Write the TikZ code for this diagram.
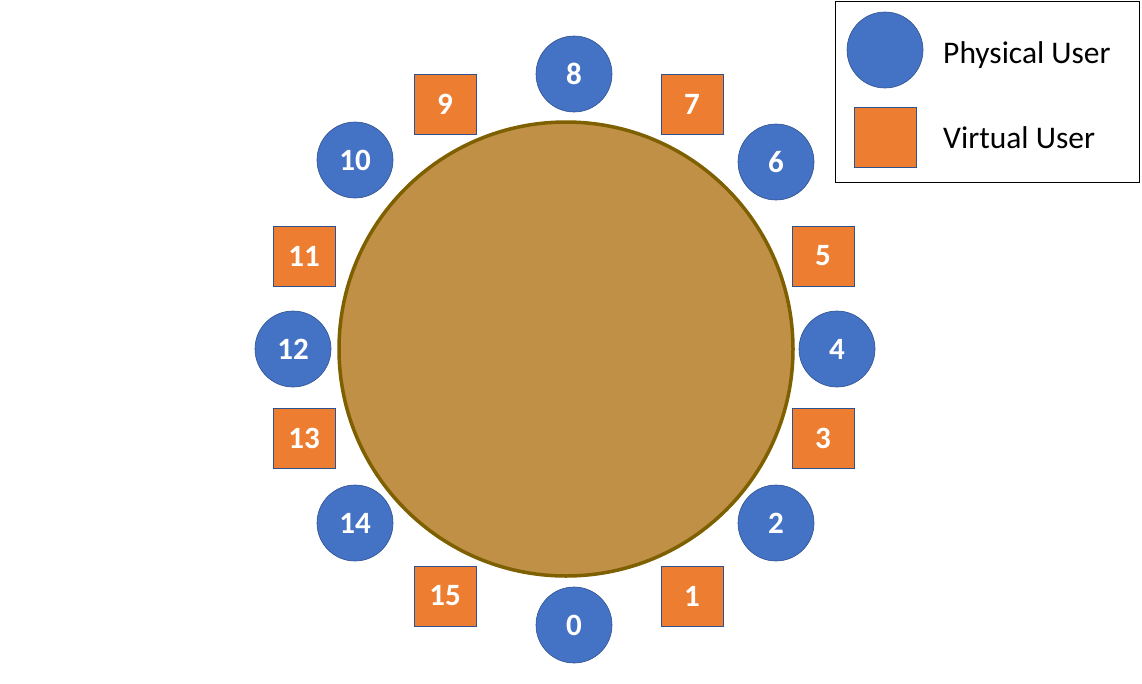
\documentclass[tikz,border=0pt]{standalone}
\usepackage{fontspec}
\setmainfont{Carlito}
\usepackage{tikz}

\definecolor{userblue}{HTML}{4472C4}
\definecolor{useredge}{HTML}{2F528F}
\definecolor{userorange}{HTML}{ED7D31}
\definecolor{tablefill}{HTML}{BF9046}
\definecolor{tableedge}{HTML}{7F6000}

\begin{document}
\begin{tikzpicture}[x=1pt, y=-1pt,
    physical/.style={circle, minimum size=76pt, inner sep=0pt, fill=userblue, draw=useredge, line width=0.6pt, text=white, font=\fontsize{31}{34}\selectfont\bfseries},
    virtual/.style={rectangle, minimum width=62pt, minimum height=60pt, inner sep=0pt, fill=userorange, draw=useredge, line width=0.8pt, text=white, font=\fontsize{31}{34}\selectfont\bfseries},
    legendtext/.style={anchor=base west, inner sep=0pt, font=\fontsize{31.5}{34}\selectfont}]

    \useasboundingbox (0,0) rectangle (1142,683);

    % Table
    \node[circle, minimum size=454pt, inner sep=0pt, fill=tablefill, draw=tableedge, line width=3.5pt] (table) at (566,349) {};

    % Physical users
    \foreach \n/\x/\y in {0/574/625, 2/776/523, 4/837/349, 6/776/162, 8/574/74, 10/355/160, 12/293/349, 14/355/523} {
        \node[physical] (p\n) at (\x,\y) {\n};
    }

    % Virtual users
    \foreach \n/\x/\y in {1/692/596, 3/823/438, 5/823/256, 7/692/104, 9/445/104, 11/304/256, 13/304/438, 15/445/596} {
        \node[virtual] (v\n) at (\x,\y) {\n};
    }

    % Legend
    \node[draw=black, line width=1pt, minimum width=304pt, minimum height=181pt, inner sep=0pt] (legend) at (987.5,92) {};
    \node[physical] (legphys) at (885,50) {};
    \node[virtual] (legvirt) at (885.5,137) {};
    \node[legendtext] (physlabel) at (943,63) {Physical User};
    \node[legendtext] (virtlabel) at (943,148) {Virtual User};
\end{tikzpicture}
\end{document}
